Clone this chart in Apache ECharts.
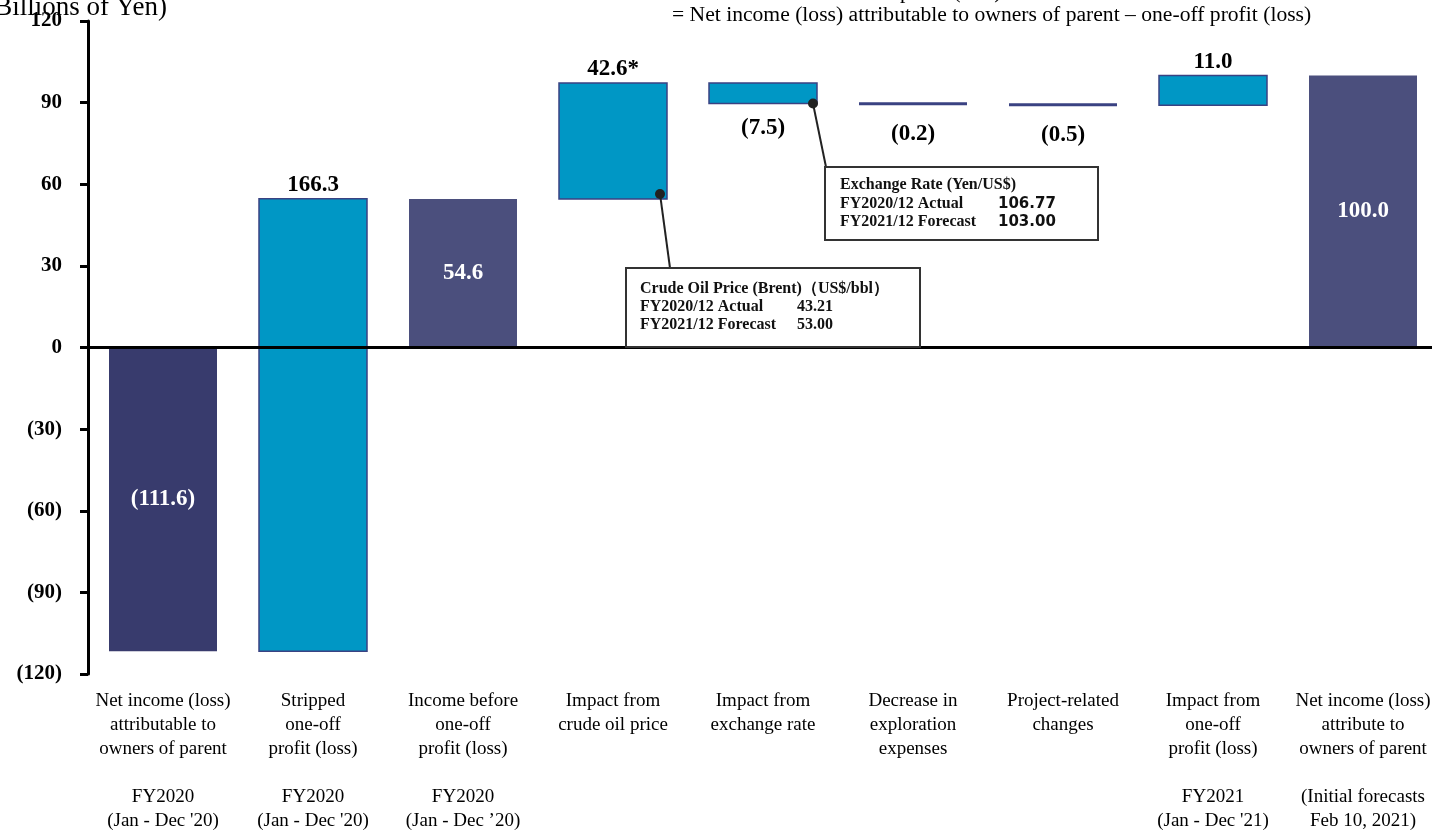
<!DOCTYPE html>
<html><head><meta charset="utf-8">
<script src="https://cdn.jsdelivr.net/npm/echarts@6/dist/echarts.min.js"></script>
<style>html,body{margin:0;padding:0;background:#fff}#c{width:1432px;height:830px}</style>
</head><body><div id="c"></div>
<script>
const categories = [
  "Net income (loss)\nattributable to\nowners of parent\n\nFY2020\n(Jan - Dec '20)",
  "Stripped\none-off\nprofit (loss)\n\nFY2020\n(Jan - Dec '20)",
  "Income before\none-off\nprofit (loss)\n\nFY2020\n(Jan - Dec \u201920)",
  "Impact from\ncrude oil price",
  "Impact from\nexchange rate",
  "Decrease in\nexploration\nexpenses",
  "Project-related\nchanges",
  "Impact from\none-off\nprofit (loss)\n\nFY2021\n(Jan - Dec '21)",
  "Net income (loss)\nattribute to\nowners of parent\n\n(Initial forecasts\nFeb 10, 2021)"
];
const values = [-111.6, 166.3, 54.6, 42.6, -7.5, -0.2, -0.5, 11.0, 100.0];
const kinds = ["total", "delta", "total", "delta", "delta", "delta", "delta", "delta", "total"];
const valueLabels = ["(111.6)", "166.3", "54.6", "42.6*", "(7.5)", "(0.2)", "(0.5)", "11.0", "100.0"];
const yTicks = [-120, -90, -60, -30, 0, 30, 60, 90, 120];

// build waterfall ranges
const ranges = [];
let running = 0;
values.forEach((v, i) => {
  if (kinds[i] === "total") { ranges.push([i, Math.min(0, v), Math.max(0, v)]); running = v; }
  else { const a = running, b = running + v; ranges.push([i, Math.min(a, b), Math.max(a, b)]); running = b; }
});

const SERIF = "'Liberation Serif', 'DejaVu Serif', serif";
const TEAL = "#0097C5", NAVY_EDGE = "#3A4282", DARK1 = "#383B6D", DARK2 = "#4B4F7D";

const chart = echarts.init(document.getElementById('c'), null, {renderer: 'canvas'});
chart.setOption({
  animation: false,
  backgroundColor: '#fff',
  grid: {left: 88, right: -6, top: 21, bottom: 156, outerBoundsMode: 'none', containLabel: false},
  xAxis: {
    type: 'category', data: categories,
    axisLine: {show: false}, axisTick: {show: false}, splitLine: {show: false},
    axisLabel: {interval: 0, margin: 15, color: '#000', fontFamily: SERIF, fontSize: 19, lineHeight: 24}
  },
  yAxis: {
    type: 'value', min: -120, max: 120, interval: 30,
    axisLine: {show: true, lineStyle: {color: '#000', width: 3}},
    axisTick: {show: true, inside: false, length: 8, lineStyle: {color: '#000', width: 3}},
    splitLine: {show: false},
    axisLabel: {
      color: '#000', fontFamily: SERIF, fontWeight: 'bold', fontSize: 21, margin: 26,
      formatter: v => yTicks.includes(v) ? (v < 0 ? '(' + Math.abs(v) + ')' : String(v)) : ''
    }
  },
  series: [{
    type: 'custom',
    data: ranges,
    encode: {x: 0, y: [1, 2]},
    renderItem: function (params, api) {
      const i = api.value(0), lo = api.value(1), hi = api.value(2);
      const pTop = api.coord([i, hi]), pBot = api.coord([i, lo]);
      const w = api.size([1, 0])[0] * 0.72;
      let y = pTop[1], h = pBot[1] - pTop[1];
      const kind = kinds[i];
      let fill = kind === 'total' ? (i === 0 ? DARK1 : DARK2) : TEAL;
      let stroke = kind === 'total' ? null : NAVY_EDGE;
      if (h < 3) { y = y + h / 2 - 1.5; h = 3; fill = NAVY_EDGE; stroke = null; }
      const children = [{
        type: 'rect',
        shape: {x: pTop[0] - w / 2, y: y, width: w, height: h},
        style: {fill: fill, stroke: stroke, lineWidth: stroke ? 1.5 : 0}
      }];
      let tx = pTop[0], ty, tcol = '#000', va;
      const v = values[i];
      if (kind === 'total') { ty = y + h / 2; tcol = '#fff'; va = 'middle'; }
      else if (v > 0) { ty = y - 2; va = 'bottom'; }
      else { ty = y + h + (h < 5 ? 17 : 13); va = 'top'; }
      children.push({
        type: 'text',
        style: {x: tx, y: ty, text: valueLabels[i], fill: tcol, align: 'center', verticalAlign: va,
          font: "bold 23px " + SERIF}
      });
      return {type: 'group', children: children};
    },
    markLine: {
      silent: true, symbol: 'none', animation: false,
      data: [{yAxis: 0}],
      label: {show: false},
      lineStyle: {color: '#000', width: 3, type: 'solid'}
    },
    z: 2
  }]
});

// annotations (decorative), anchored to bar corners via the axes
function px(i, v) { return chart.convertToPixel({xAxisIndex: 0, yAxisIndex: 0}, [i, v]); }
const catW = chart.convertToPixel({xAxisIndex: 0}, 1) - chart.convertToPixel({xAxisIndex: 0}, 0);
const bw = catW * 0.72 / 2;
const oilC = px(3, ranges[3][1]);
const fxC = px(4, ranges[4][1]);
const oilDot = [oilC[0] + bw - 7, oilC[1] - 5];
const fxDot = [fxC[0] + bw - 4, fxC[1]];
const BOXF = "bold 16px " + SERIF;

chart.setOption({
  graphic: [
    {type: 'text', x: 167, y: 21, style: {text: '(Billions of Yen)', font: "27px " + SERIF, fill: '#000', align: 'right', verticalAlign: 'bottom'}},
    {type: 'text', x: 690, y: -7, scaleX: 1.08, style: {text: '*Income before one-off profit (loss)', font: "20px " + SERIF, fill: '#000', verticalAlign: 'middle'}},
    {type: 'text', x: 672, y: 16, scaleX: 1.08, style: {text: '= Net income (loss) attributable to owners of parent \u2013 one-off profit (loss)', font: "20px " + SERIF, fill: '#000', verticalAlign: 'middle'}},
    // leader lines
    {type: 'line', shape: {x1: oilDot[0], y1: oilDot[1], x2: 670, y2: 268}, style: {stroke: '#222', lineWidth: 2}, z: 10},
    {type: 'circle', shape: {cx: oilDot[0], cy: oilDot[1], r: 5}, style: {fill: '#222'}, z: 11},
    {type: 'line', shape: {x1: fxDot[0], y1: fxDot[1], x2: 826, y2: 167}, style: {stroke: '#222', lineWidth: 2}, z: 10},
    {type: 'circle', shape: {cx: fxDot[0], cy: fxDot[1], r: 5}, style: {fill: '#222'}, z: 11},
    // crude oil box
    {type: 'rect', shape: {x: 626, y: 268, width: 294, height: 79}, style: {fill: '#fff', stroke: '#333', lineWidth: 2}, z: 10},
    {type: 'text', x: 640, y: 289, z: 11, style: {text: 'Crude Oil Price (Brent)\uFF08US$/bbl\uFF09', font: BOXF, fill: '#111', verticalAlign: 'middle'}},
    {type: 'text', x: 640, y: 307, z: 11, style: {text: 'FY2020/12 Actual', font: BOXF, fill: '#111', verticalAlign: 'middle'}},
    {type: 'text', x: 797, y: 307, z: 11, style: {text: '43.21', font: BOXF, fill: '#111', verticalAlign: 'middle'}},
    {type: 'text', x: 640, y: 325, z: 11, style: {text: 'FY2021/12 Forecast', font: BOXF, fill: '#111', verticalAlign: 'middle'}},
    {type: 'text', x: 797, y: 325, z: 11, style: {text: '53.00', font: BOXF, fill: '#111', verticalAlign: 'middle'}},
    // exchange box
    {type: 'rect', shape: {x: 825, y: 167, width: 273, height: 73}, style: {fill: '#fff', stroke: '#333', lineWidth: 2}, z: 10},
    {type: 'text', x: 840, y: 185, z: 11, style: {text: 'Exchange Rate (Yen/US$)', font: BOXF, fill: '#111', verticalAlign: 'middle'}},
    {type: 'text', x: 840, y: 204, z: 11, style: {text: 'FY2020/12 Actual', font: BOXF, fill: '#111', verticalAlign: 'middle'}},
    {type: 'text', x: 998, y: 204, z: 11, style: {text: '106.77', font: "bold 15px 'DejaVu Sans', sans-serif", fill: '#111', verticalAlign: 'middle'}},
    {type: 'text', x: 840, y: 222, z: 11, style: {text: 'FY2021/12 Forecast', font: BOXF, fill: '#111', verticalAlign: 'middle'}},
    {type: 'text', x: 998, y: 222, z: 11, style: {text: '103.00', font: "bold 15px 'DejaVu Sans', sans-serif", fill: '#111', verticalAlign: 'middle'}}
  ]
});
</script>
</body></html>
